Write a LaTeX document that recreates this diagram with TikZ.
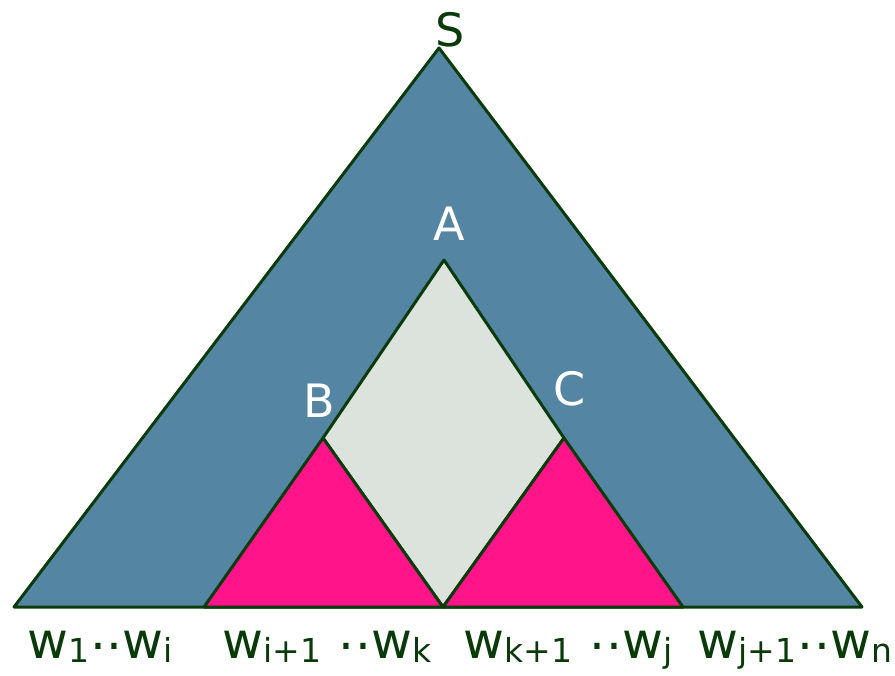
\documentclass[tikz,border=0pt]{standalone}
\usepackage{fontspec}
\setmainfont{DejaVu Sans}
\usepackage{tikz}
\definecolor{edge}{HTML}{0B3A0B}
\definecolor{ink}{HTML}{0A3A0A}
\definecolor{steel}{HTML}{5485A3}
\definecolor{rose}{HTML}{FF1489}
\definecolor{pale}{HTML}{DCE3DC}
\newcommand{\wsub}[1]{\raisebox{-4pt}{\fontsize{33}{35}\selectfont #1}}
\newcommand{\wdots}{\kern1pt\raisebox{9pt}{.}\kern1pt\raisebox{9pt}{.}}

\begin{document}
\begin{tikzpicture}[x=1pt,y=-1pt,line join=round]
  \tikzstyle{part}=[draw=edge,line width=3pt]
  \tikzstyle{big}=[font=\fontsize{46}{50}\selectfont,inner sep=0pt]
  \tikzstyle{word}=[font=\fontsize{50}{54}\selectfont,text=ink,inner sep=0pt,anchor=base]
  \useasboundingbox (0,0) rectangle (895,676);
  % corners
  \coordinate (s) at (439,48);
  \coordinate (l) at (14,607);
  \coordinate (r) at (862,607);
  \coordinate (a) at (444,260);
  \coordinate (b) at (323,438);
  \coordinate (c) at (564,438);
  \coordinate (m) at (443,607);
  \coordinate (bl) at (204,607);
  \coordinate (cr) at (683,607);
  % soft shadow
  \foreach \d in {2,4,...,12}
    \fill[black,opacity=0.08,shift={(\d,\d)}] (s)--(r)--(l)--cycle;
  % shapes
  \draw[part,fill=steel] (s)--(r)--(l)--cycle;
  \draw[part,fill=pale] (a)--(c)--(m)--(b)--cycle;
  \draw[part,fill=rose] (b)--(m)--(bl)--cycle;
  \draw[part,fill=rose] (c)--(cr)--(m)--cycle;
  % labels
  \node[big,text=ink] (ls) at (450,30) {S};
  \node[big,text=white] (la) at (449,224) {A};
  \node[big,text=white] (lb) at (319,401) {B};
  \node[big,text=white] (lc) at (570,389) {C};
  \node[word] (w1) at (100,658) {w\wsub{1}\wdots w\wsub{i}};
  \node[word] (w2) at (327,658) {w\wsub{i+1} \wdots w\wsub{k}};
  \node[word] (w3) at (568,658) {w\wsub{k+1} \wdots w\wsub{j}};
  \node[word] (w4) at (795,658) {w\wsub{j+1}\wdots w\wsub{n}};
\end{tikzpicture}
\end{document}
